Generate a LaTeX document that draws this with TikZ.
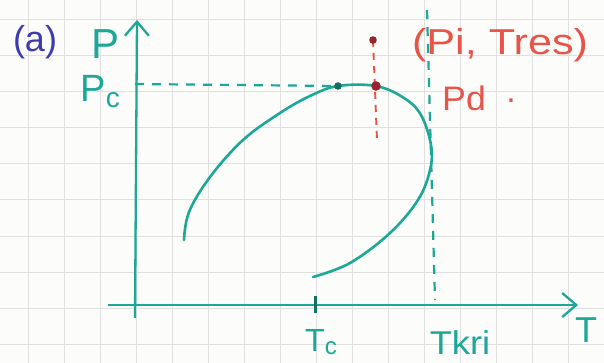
\documentclass[tikz,border=0pt]{standalone}
\usepackage{fontspec}
\setmainfont{Liberation Sans}
\usetikzlibrary{arrows.meta}
\definecolor{teal1}{RGB}{28,168,150}
\definecolor{tealdark}{RGB}{20,110,100}
\definecolor{red1}{RGB}{232,84,72}
\definecolor{reddark}{RGB}{150,35,45}
\definecolor{blue1}{RGB}{60,60,175}
\definecolor{gridc}{RGB}{224,224,224}
\definecolor{paper}{RGB}{252,252,250}
\tikzset{
  axis/.style={teal1, line width=2.3pt},
  envelope/.style={teal1, line width=2.6pt, line cap=round},
  tealdash/.style={teal1, line width=2.2pt, dash pattern=on 9pt off 8pt},
  reddash/.style={red1, line width=1.9pt, dash pattern=on 7pt off 6pt},
  lbl/.style={inner sep=0pt, font=\fontsize{36}{38}\selectfont},
  redlbl/.style={lbl, text=red1},
  teallbl/.style={lbl, text=teal1},
  barb/.style={-{Straight Barb[length=14pt,width=24pt,line width=2.3pt]}},
}
\begin{document}
\begin{tikzpicture}[x=1pt,y=-1pt]
\useasboundingbox (0,0) rectangle (604,363);
\fill[paper] (0,0) rectangle (604,363);
% grid
\foreach \gx in {28,64,100,136,172,208,244,280,316,352,388,424,460,496,532,568}
  \draw[gridc, line width=1pt] (\gx,0) -- (\gx,363);
\foreach \gy in {20,56,92,128,164,200,236,272,308,344}
  \draw[gridc, line width=1pt] (0,\gy) -- (604,\gy);

% axes
\coordinate (ybot) at (135,318);
\coordinate (ytop) at (137,20);
\coordinate (xleft) at (108,305);
\coordinate (xright) at (578,305);
\draw[axis, barb] (ybot) -- (ytop);
\draw[axis, barb] (xleft) -- (xright);

% ticks
\coordinate (pc) at (135,84);
\coordinate (pctick) at (141,84);
\draw[tealdark, line width=2.5pt] (pc) -- (pctick);
\coordinate (tct) at (315,296);
\coordinate (tcb) at (315,313);
\draw[tealdark, line width=3pt] (tct) -- (tcb);

% critical point, pc dashed
\coordinate (crit) at (338,86);
\draw[tealdash] (pc) -- (crit);

% Tkri dashed
\coordinate (tkt) at (427,10);
\coordinate (tkb) at (435,300);
\draw[tealdash] (tkt) -- (tkb);

% envelope
\coordinate (e1) at (184,240);
\coordinate (e2) at (189,212);
\coordinate (e3) at (210,177);
\coordinate (e4) at (243,140);
\coordinate (e5) at (280,113);
\coordinate (e6) at (310,96);
\coordinate (e7) at (376,86);
\coordinate (e8) at (404,98);
\coordinate (e9) at (421,115);
\coordinate (e10) at (431,145);
\coordinate (e11) at (430,170);
\coordinate (e12) at (418,200);
\coordinate (e13) at (390,233);
\coordinate (e14) at (350,263);
\coordinate (e15) at (313,277);
\draw[envelope] plot[smooth, tension=0.6] coordinates {(e1) (e2) (e3) (e4) (e5) (e6) (crit) (e7) (e8) (e9) (e10) (e11) (e12) (e13) (e14) (e15)};

% red dashed path
\coordinate (pi) at (373,40);
\coordinate (redend) at (377,140);
\draw[reddash] (pi) -- (redend);
\fill[reddark] (pi) circle (3.8pt);
\fill[reddark] (e7) circle (4.8pt);
\fill[tealdark] (crit) circle (3.8pt);

% labels
\node[lbl, text=blue1] (a) at (35,42) {(a)};
\node[teallbl, font=\fontsize{42}{44}\selectfont] (P) at (106,44) {P};
\node[teallbl, anchor=east, font=\fontsize{38}{40}\selectfont] (Pc) at (120,92) {P\raisebox{-0.3ex}{\fontsize{28}{30}\selectfont c}};
\node[teallbl] (T) at (586,330) {T};
\node[teallbl, font=\fontsize{32}{34}\selectfont] (Tc) at (321,342) {T\raisebox{-0.2ex}{\fontsize{24}{26}\selectfont c}};
\node[teallbl, font=\fontsize{33}{35}\selectfont] (Tkri) at (460,343) {\scalebox{1.1}[1]{Tkri}};
\node[redlbl] (PiTres) at (500,45) {\scalebox{1.2}[1]{(Pi, Tres)}};
\node[redlbl, font=\fontsize{34}{36}\selectfont, anchor=west] (Pd) at (442,98) {\scalebox{1.05}[1]{Pd}};
\node[redlbl, font=\fontsize{34}{36}\selectfont, anchor=base] (dot) at (511,103) {.};
\end{tikzpicture}
\end{document}
